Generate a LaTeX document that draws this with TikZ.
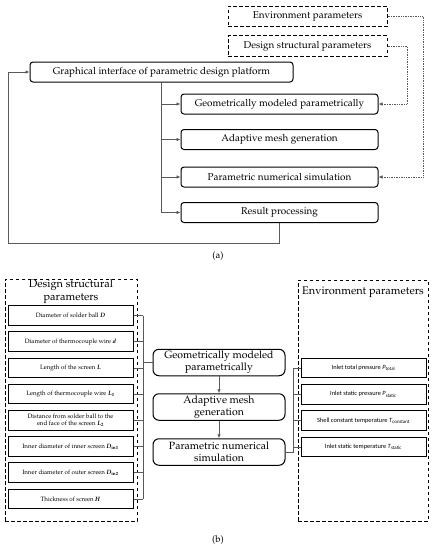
\documentclass[tikz,border=0pt]{standalone}
\usepackage{fontspec}
\newfontfamily\envfont{Carlito}
\usepackage[T1]{fontenc}
\usepackage{mathpazo}
\usepackage{tikz}
\usetikzlibrary{
    calc,
    arrows.meta
}
\definecolor{linegray}{gray}{0.35}
\newcommand{\bsym}[1]{\textbf{\textit{#1}}}
\newcommand{\bsub}[1]{\textsubscript{\textbf{#1}}}
\tikzset{
  stepbox/.style={draw, line width=1pt, rounded corners=3pt, minimum width=197pt,
    minimum height=20pt, inner sep=1pt, font=\fontsize{9.9}{11}\selectfont},
  parambox/.style={draw, line width=1pt, dash pattern=on 3.5pt off 2.5pt, minimum width=159pt,
    minimum height=20.5pt, inner sep=1pt, font=\fontsize{9.9}{11}\selectfont},
  groupbox/.style={draw, line width=1pt, dash pattern=on 3.5pt off 2.5pt},
  grouptitle/.style={align=center, inner sep=0pt, font=\fontsize{11}{12.5}\selectfont},
  itembox/.style={draw, line width=1pt, minimum width=125pt, minimum height=19.5pt,
    inner sep=1pt, align=center, font=\fontsize{6.2}{7.5}\selectfont},
  envitem/.style={itembox, font=\envfont\fontsize{6.4}{7.5}\selectfont},
  flowbox/.style={draw, line width=1pt, rounded corners=6pt, minimum width=132pt,
    minimum height=26.5pt, inner sep=1pt, align=center, font=\fontsize{10.5}{12}\selectfont},
  link/.style={draw=linegray, line width=0.7pt},
  arrowlink/.style={link, -{Latex[length=4pt,width=3.5pt]}},
  dotlink/.style={link, densely dotted, -{Latex[length=4pt,width=3.5pt]}},
  caption/.style={font=\fontsize{9.5}{10}\selectfont}
}

\begin{document}
\begin{tikzpicture}[x=1pt,y=-1pt,thin]
\useasboundingbox (0,0) rectangle (432,550);
% (a)
\node[parambox] (env) at (307.5,16.5) {Environment parameters};
\node[parambox] (dsp) at (307.5,46) {Design structural parameters};
\node[stepbox, minimum width=263pt] (gui) at (161.5,72) {Graphical interface of parametric design platform};
\node[stepbox] (geo) at (279.5,104) {Geometrically modeled parametrically};
\node[stepbox] (mesh) at (279.5,139.5) {Adaptive mesh generation};
\node[stepbox] (sim) at (279.5,177) {Parametric numerical simulation};
\node[stepbox] (res) at (279.5,212.5) {Result processing};

\coordinate (loop) at (8,243);
\coordinate (envturn) at (423,16.5);
\coordinate (dspturn) at (407,46);

\foreach \n in {geo,mesh,sim,res}
  \draw[arrowlink] (gui.south) |- (\n.west);
\draw[arrowlink] (res.south) |- (loop) |- (gui.west);
\draw[dotlink] (env.east) -- (envturn) |- (sim.east);
\draw[dotlink] (dsp.east) -- (dspturn) |- (geo.east);

\node[caption] (capa) at (218,256) {(a)};

% (b)
\node[groupbox, minimum width=132pt, minimum height=242pt] (dspgroup) at (71,400) {};
\node[grouptitle] (dsptitle) at (71,291.5) {Design structural\\parameters};
\node[groupbox, minimum width=130pt, minimum height=241pt] (envgroup) at (363,400.5) {};
\node[grouptitle] (envtitle) at (363,292) {Environment parameters};

\foreach \txt [count=\i] in {
    {Diameter of solder ball \bsym{D}},
    {Diameter of thermocouple wire \bsym{d}},
    {Length of the screen \bsym{L}},
    {Length of thermocouple wire \bsym{L}\bsub{1}},
    {Distance from solder ball to the\\end face of the screen \bsym{L}\bsub{2}},
    {Inner diameter of inner screen \bsym{D}\bsub{in1}},
    {Inner diameter of outer screen \bsym{D}\bsub{in2}},
    {Thickness of screen \bsym{H}}}
  \node[itembox] (p\i) at (70.5,{315.5+26.2*(\i-1)}) {\txt};

\node[flowbox] (geob) at (219,362.5) {Geometrically modeled\\parametrically};
\node[flowbox] (meshb) at (219,407) {Adaptive mesh\\generation};
\node[flowbox] (simb) at (219,452) {Parametric numerical\\simulation};
\draw[arrowlink] (geob) -- (meshb);
\draw[arrowlink] (meshb) -- (simb);

\foreach \txt [count=\i] in {
    {Inlet total pressure \textit{P}\textsubscript{total}},
    {Inlet static pressure \textit{P}\textsubscript{static}},
    {Shell constant temperature \textit{T}\textsubscript{constant}},
    {Inlet static temperature \textit{T}\textsubscript{static}}}
  \node[envitem] (e\i) at (363.5,{368+26.3*(\i-1)}) {\txt};

\coordinate (busl) at (143,0);
\coordinate (busr) at (293,0);
\foreach \i in {1,...,8}
  \draw[link] (p\i.east) -- (p\i.east -| busl);
\draw[link] (p1.east -| busl) -- (p8.east -| busl);
\draw[link] (geob.west -| busl) -- (geob.west);
\foreach \i in {1,...,4}
  \draw[link] (e\i.west -| busr) -- (e\i.west);
\draw[link] (e1.west -| busr) -- (simb.east -| busr) -- (simb.east);

\node[caption] (capb) at (218,540) {(b)};
\end{tikzpicture}
\end{document}
